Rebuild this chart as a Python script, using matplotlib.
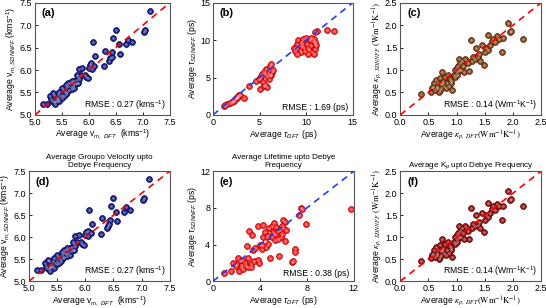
import matplotlib
matplotlib.use("Agg")
from matplotlib import pyplot as plt
import numpy as np

plt.rcParams["font.family"] = ["Liberation Sans", "DejaVu Sans"]
plt.rcParams["mathtext.fontset"] = "custom"
plt.rcParams["mathtext.rm"] = "Liberation Sans"
plt.rcParams["mathtext.it"] = "Liberation Sans:italic"

# group velocity (panels a, d)
vel_dft = [5.15, 5.22, 5.28, 5.3, 5.32, 5.35, 5.35, 5.37, 5.38, 5.4, 5.42, 5.43, 5.45, 5.47,
           5.5, 5.5, 5.52, 5.53, 5.55, 5.57, 5.58, 5.6, 5.62, 5.63, 5.65, 5.66, 5.68, 5.7,
           5.7, 5.72, 5.73, 5.75, 5.76, 5.78, 5.8, 5.8, 5.82, 5.82, 5.85, 5.88, 5.92, 5.95,
           5.98, 6.0, 6.02, 6.04, 6.05, 6.07, 6.1, 6.12, 6.28, 6.3, 6.38, 6.4, 6.42, 6.43,
           6.45, 6.5, 6.55, 6.57, 6.68, 6.72, 6.8, 7.03, 7.04, 7.13, 5.62, 5.68, 5.78, 5.5,
           5.45, 5.58, 5.34, 5.4]
vel_nn = [5.25, 5.25, 5.42, 5.35, 5.3, 5.28, 5.45, 5.32, 5.24, 5.38, 5.47, 5.35, 5.3, 5.42,
          5.45, 5.38, 5.55, 5.42, 5.5, 5.47, 5.6, 5.52, 5.65, 5.55, 5.7, 5.62, 5.58, 5.72,
          5.65, 5.75, 5.6, 5.68, 5.78, 5.72, 5.85, 5.7, 6.02, 5.8, 5.88, 6.04, 5.9, 5.85,
          5.82, 6.05, 6.12, 6.15, 6.02, 6.62, 6.1, 6.31, 6.08, 6.43, 6.2, 6.26, 6.3, 6.4,
          6.72, 6.9, 6.57, 6.36, 6.58, 6.68, 6.63, 6.85, 6.9, 7.32, 5.7, 5.75, 5.88, 5.6,
          5.52, 5.66, 5.48, 5.32]

# lifetime, full spectrum (panel b)
life_dft = [1.2, 1.5, 1.8, 2.2, 2.4, 2.5, 2.6, 2.7, 2.8, 2.9, 3.3, 2.3, 2.0, 1.3, 2.6,
            3.9, 4.6, 4.9, 5.1, 5.0, 5.2, 5.4, 5.5, 5.8, 5.6, 5.7, 5.9, 6.0, 6.1, 6.2,
            6.3, 6.2, 6.0, 5.6, 5.3, 6.4, 5.8, 5.5, 6.1,
            8.7, 8.8, 9.0, 9.1, 9.2, 9.3, 9.4, 9.5, 9.6, 9.7, 9.8, 9.9, 10.0, 10.1, 10.2,
            10.3, 10.4, 10.5, 10.6, 10.7, 10.8, 10.9, 11.0, 11.1, 11.2, 11.0, 12.2, 13.0,
            10.2, 9.0, 8.9, 10.5, 9.6, 10.8, 11.0]
life_nn = [1.2, 1.4, 1.6, 1.9, 2.1, 2.3, 2.2, 2.5, 2.7, 2.6, 2.2, 1.9, 1.7, 1.3, 2.4,
           3.8, 4.5, 4.8, 5.0, 3.4, 5.2, 4.4, 3.8, 3.7, 5.5, 6.1, 5.6, 6.0, 6.5, 6.8,
           5.8, 5.3, 4.8, 4.0, 5.5, 6.0, 5.2, 5.8, 5.4,
           9.0, 8.5, 9.5, 10.0, 9.3, 8.7, 9.8, 8.4, 9.6, 10.2, 9.0, 8.5, 10.3, 9.5, 9.0,
           8.7, 10.0, 9.3, 8.4, 9.9, 10.2, 9.5, 8.8, 9.3, 11.2, 11.1, 11.4, 11.2,
           8.2, 8.2, 8.9, 10.3, 9.2, 8.2, 9.7]

# thermal conductivity (panels c, f)
kp_dft = [0.36, 0.55, 0.57, 0.6, 0.62, 0.63, 0.65, 0.67, 0.68, 0.7, 0.7, 0.72, 0.73, 0.75,
          0.76, 0.78, 0.8, 0.82, 0.83, 0.85, 0.86, 0.88, 0.9, 0.92, 0.95, 0.97, 0.98, 1.0,
          1.0, 1.02, 1.05, 1.06, 1.08, 1.1, 1.12, 1.13, 1.15, 1.18, 1.2, 1.22, 1.25, 1.28,
          1.3, 1.32, 1.35, 1.38, 1.4, 1.42, 1.45, 1.48, 1.5, 1.52, 1.55, 1.56, 1.6, 1.62,
          1.65, 1.68, 1.72, 1.75, 1.8, 1.82, 1.92, 1.95, 1.97, 2.18, 0.58, 0.66, 0.74, 0.9,
          1.0, 1.04]
kp_nn = [0.46, 0.52, 0.6, 0.7, 0.55, 0.78, 0.65, 0.72, 0.5, 0.55, 0.82, 0.68, 0.6, 0.95,
         0.75, 0.65, 0.85, 0.6, 0.72, 0.9, 0.65, 0.8, 0.7, 0.55, 0.9, 1.0, 0.85, 1.05,
         0.95, 1.1, 1.25, 1.15, 1.0, 1.2, 1.1, 0.95, 1.25, 1.2, 1.15, 0.97, 1.66, 1.2,
         1.3, 1.25, 1.5, 1.28, 1.35, 1.2, 1.55, 1.12, 1.4, 1.5, 1.78, 1.45, 1.55, 1.65,
         1.7, 1.62, 1.75, 1.7, 1.4, 1.72, 2.05, 1.85, 1.88, 1.7, 0.62, 0.6, 0.7, 0.75,
         0.9, 1.0]

# lifetime up to Debye frequency (panel e)
lifed_dft = [0.9, 1.5, 1.7, 2.0, 2.1, 2.2, 2.3, 2.4, 2.5, 2.5, 2.6, 2.7, 2.8, 2.9, 3.0,
             3.0, 3.1, 3.2, 3.2, 3.3, 3.4, 3.5, 3.8, 3.8, 3.9, 4.0, 4.2, 4.3, 4.3, 4.4,
             4.5, 4.6, 4.7, 4.8, 4.9, 5.0, 5.0, 5.1, 5.2, 5.3, 5.3, 5.4, 5.5, 5.6, 5.7,
             5.8, 5.9, 6.0, 6.0, 6.1, 6.1, 6.2, 6.7, 6.8, 7.0, 7.0, 7.3, 7.5, 7.6, 7.9,
             11.8, 2.0, 3.6, 4.7, 5.9, 5.5, 4.2]
lifed_nn = [0.9, 1.1, 2.0, 1.7, 2.5, 1.1, 2.2, 1.5, 1.8, 2.3, 1.3, 2.0, 1.7, 3.8, 1.5,
            2.5, 5.5, 1.9, 1.6, 5.0, 3.4, 2.2, 2.3, 6.0, 2.0, 4.0, 3.5, 4.8, 6.1, 5.4,
            3.7, 4.8, 4.1, 5.8, 2.5, 6.0, 4.8, 5.4, 6.4, 4.5, 5.1, 5.9, 5.5, 2.7, 5.6,
            4.8, 5.2, 6.7, 5.8, 4.4, 6.5, 5.6, 2.1, 2.2, 3.5, 3.2, 7.2, 8.0, 7.9, 6.2,
            7.9, 1.9, 3.6, 4.9, 6.0, 4.6, 3.9]

vel_lab = ("Average v$_{m,SDNNFF}$ (kms$^{-1}$)", "Average v$_{m,\\ DFT}$  (kms$^{-1}$)")
tau_lab = ("Average $\\tau_{SDNNFF}$ (ps)", "Average $\\tau_{DFT}$ (ps)")
kp_lab = ("Average $\\kappa_{p,\\ SDNNFF}\\ \\mathrm{(Wm^{-1}K^{-1})}$",
          "Average $\\kappa_{p,\\ DFT}\\mathrm{(Wm^{-1}K^{-1})}$")

fig = plt.figure(figsize=(5.46, 3.08), dpi=100)

panels = [
    ([0.064, 0.627, 0.247, 0.364], vel_dft, vel_nn, (5.0, 7.5), np.arange(5.0, 7.51, 0.5),
     "#1c2390", "#0b0d45", "red", "(a)", "RMSE : 0.27 (kms$^{-1}$)", vel_lab, None, "%.1f", "custom"),
    ([0.390, 0.627, 0.256, 0.364], life_dft, life_nn, (0, 15), [0, 5, 10, 15],
     "#ff2a2a", "#b00000", "#1f3fff", "(b)", "RMSE : 1.69 (ps)", tau_lab, None, "%d", "custom"),
    ([0.733, 0.627, 0.258, 0.364], kp_dft, kp_nn, (0.0, 2.5), np.arange(0, 2.51, 0.5),
     "#8a4a1c", "#4a2208", "red", "(c)", "RMSE : 0.14 (Wm$^{-1}$K$^{-1}$)", kp_lab, None, "%.1f", "stix"),
    ([0.053, 0.087, 0.258, 0.357], vel_dft, vel_nn, (5.0, 7.5), np.arange(5.0, 7.51, 0.5),
     "#1c2390", "#0b0d45", "red", "(d)", "RMSE : 0.27 (kms$^{-1}$)", vel_lab,
     "Average Groupo Velocity upto\nDebye Frequency", "%.1f", "custom"),
    ([0.390, 0.087, 0.258, 0.357], lifed_dft, lifed_nn, (0, 12), [0, 4, 8, 12],
     "#ff2a2a", "#b00000", "#1f3fff", "(e)", "RMSE : 0.38 (ps)", tau_lab,
     "Average Lifetime upto Debye\nFrequency", "%d", "custom"),
    ([0.733, 0.087, 0.258, 0.357], kp_dft, kp_nn, (0.0, 2.5), np.arange(0, 2.51, 0.5),
     "#9a1616", "#550808", "red", "(f)", "RMSE : 0.14 (Wm$^{-1}$K$^{-1}$)", kp_lab,
     "Average K$_p$ upto Debye Frequency", "%.1f", "stix"),
]

for rect, xs, ys, lim, ticks, col, edge, lcol, tag, rmse, labs, title, fmt, mfont in panels:
    ax = fig.add_axes(rect)
    ax.scatter(xs, ys, s=18, c=col, edgecolors=edge, linewidths=0.5, zorder=2)
    ax.scatter(xs, ys, s=4, c="white", alpha=0.35, linewidths=0, zorder=3)
    ax.plot(lim, lim, color=lcol, linestyle=(0, (4, 3)), linewidth=1.2, zorder=4)
    ax.set_xlim(lim)
    ax.set_ylim(lim)
    ax.set_xticks(ticks)
    ax.set_yticks(ticks)
    ax.set_xticklabels([fmt % t for t in ticks])
    ax.set_yticklabels([fmt % t for t in ticks])
    ax.tick_params(labelsize=6.5, direction="in", length=2, width=0.6, pad=2)
    for sp in ax.spines.values():
        sp.set_color("#555555")
        sp.set_linewidth(0.8)
    ax.set_ylabel(labs[0], fontsize=6.2, labelpad=1, math_fontfamily=mfont)
    ax.set_xlabel(labs[1], fontsize=6.2, labelpad=1, math_fontfamily=mfont)
    ax.text(0.05, 0.95, tag, transform=ax.transAxes, fontsize=8, fontweight="bold",
            va="top", ha="left")
    ax.text(0.97, 0.03, rmse, transform=ax.transAxes, fontsize=6.2, va="bottom", ha="right")
    if title:
        ax.set_title(title, fontsize=5.8, pad=3)

fig.savefig("out.png", dpi=100)
